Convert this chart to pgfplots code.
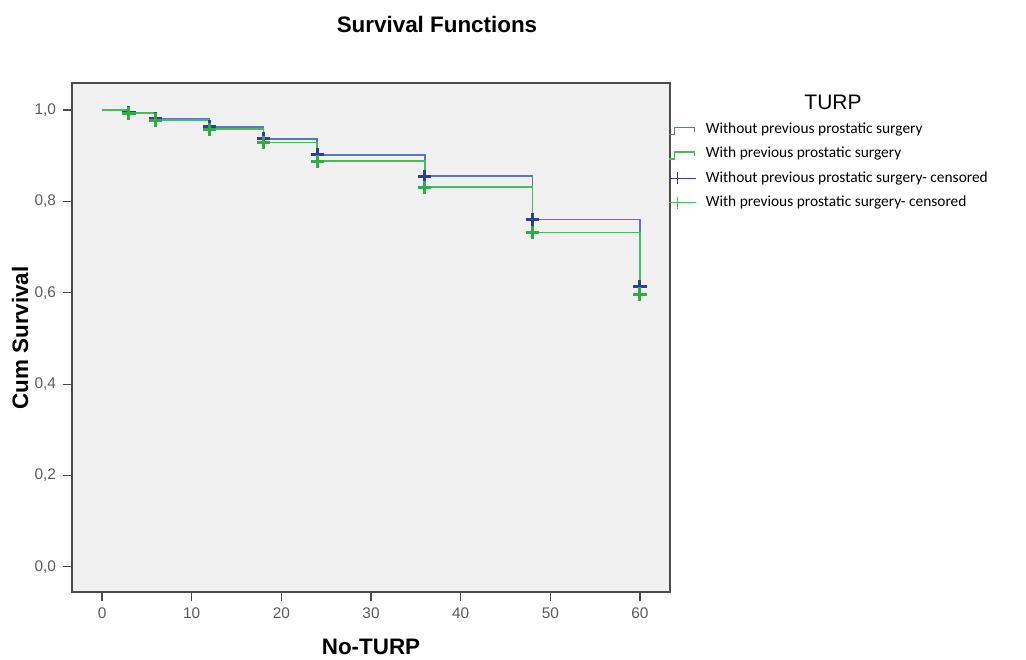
\documentclass[border=0pt]{standalone}
\usepackage{fontspec}
\setmainfont{Liberation Sans}
\newfontfamily\calibri{Carlito}
\usepackage{pgfplots}
\pgfplotsset{compat=1.18}
\definecolor{bggray}{RGB}{240,240,240}
\definecolor{framegray}{RGB}{75,75,75}
\definecolor{tickgray}{RGB}{90,90,90}
\definecolor{kmblue}{RGB}{92,116,196}
\definecolor{kmgreen}{RGB}{72,188,90}
\definecolor{cenblue}{RGB}{45,62,150}
\definecolor{cengreen}{RGB}{48,172,68}

\begin{document}
\begin{tikzpicture}
\useasboundingbox (0pt,0pt) rectangle (513pt,329.5pt);
\begin{axis}[
    at={(36pt,33.5pt)}, anchor=south west,
    width=299pt, height=254.5pt, scale only axis,
    xmin=-3.35, xmax=63.35,
    ymin=-0.055, ymax=1.059,
    axis background/.style={fill=bggray},
    axis line style={draw=framegray, line width=0.9pt},
    xtick={0,10,...,60},
    ytick={0,0.2,0.4,0.6,0.8,1.0},
    tick align=outside, tick pos=left,
    major tick length=4.5pt,
    tick style={draw=framegray, line width=0.6pt},
    ticklabel style={font=\fontsize{7.7}{9}\selectfont, text=tickgray},
    /pgf/number format/assume math mode=true,
    yticklabel style={/pgf/number format/.cd, fixed, fixed zerofill, precision=1, use comma},
    legend style={at={(0.997,0.925)}, anchor=north west, draw=none, fill=none,
        font=\calibri\fontsize{7.7}{9}\selectfont, inner sep=0pt,
        row sep=4.2pt, column sep=4.5pt,
        nodes={inner sep=0pt, text height=6pt, text depth=2pt}},
    legend cell align=left,
]
% step lines
\addplot[const plot, kmblue, line width=0.85pt,
    legend image code/.code={\draw[kmblue, line width=0.6pt] (0pt,-2.5pt) -- (2.7pt,-2.5pt) -- (2.7pt,1pt) -- (12.5pt,1pt) -- (12.5pt,-1.2pt);}]
    coordinates {(0,1.0) (3,0.994) (6,0.981) (12,0.963) (18,0.937) (24,0.902) (36,0.855) (48,0.760) (60,0.613)};
\addlegendentry{Without previous prostatic surgery}
\addplot[const plot, kmgreen, line width=0.85pt,
    legend image code/.code={\draw[kmgreen, line width=0.6pt] (0pt,-2.5pt) -- (2.7pt,-2.5pt) -- (2.7pt,1pt) -- (12.5pt,1pt) -- (12.5pt,-1.2pt);}]
    coordinates {(0,1.0) (3,0.993) (6,0.978) (12,0.958) (18,0.929) (24,0.888) (36,0.831) (48,0.732) (60,0.597)};
\addlegendentry{With previous prostatic surgery}
% censored marks
\addplot[only marks, mark=+, mark size=3.3pt, cenblue, line width=1.5pt,
    legend image code/.code={\draw[cenblue, line width=0.6pt] (0pt,0pt) -- (13.5pt,0pt); \draw[cenblue, line width=0.6pt] (4pt,-3pt) -- (4pt,3pt);}]
    coordinates {(3,0.994) (6,0.981) (12,0.963) (18,0.937) (24,0.902) (36,0.855) (48,0.760) (60,0.613)};
\addlegendentry{Without previous prostatic surgery- censored}
\addplot[only marks, mark=+, mark size=3.3pt, cengreen, line width=1.5pt,
    legend image code/.code={\draw[kmgreen, line width=0.6pt] (0pt,0pt) -- (13.5pt,0pt); \draw[kmgreen, line width=0.6pt] (4pt,-3pt) -- (4pt,3pt);}]
    coordinates {(3,0.993) (6,0.978) (12,0.958) (18,0.929) (24,0.888) (36,0.831) (48,0.732) (60,0.597)};
\addlegendentry{With previous prostatic surgery- censored}
\end{axis}
\node[font=\bfseries\fontsize{11.2}{13}\selectfont] at (218.5pt,317pt) {Survival Functions};
\node[font=\bfseries\fontsize{11.2}{13}\selectfont, rotate=90] at (10pt,160.5pt) {Cum Survival};
\node[font=\bfseries\fontsize{11.2}{13}\selectfont] at (185.5pt,6pt) {No-TURP};
\node[font=\fontsize{10.5}{12}\selectfont] at (416.5pt,278.5pt) {TURP};
\end{tikzpicture}
\end{document}
